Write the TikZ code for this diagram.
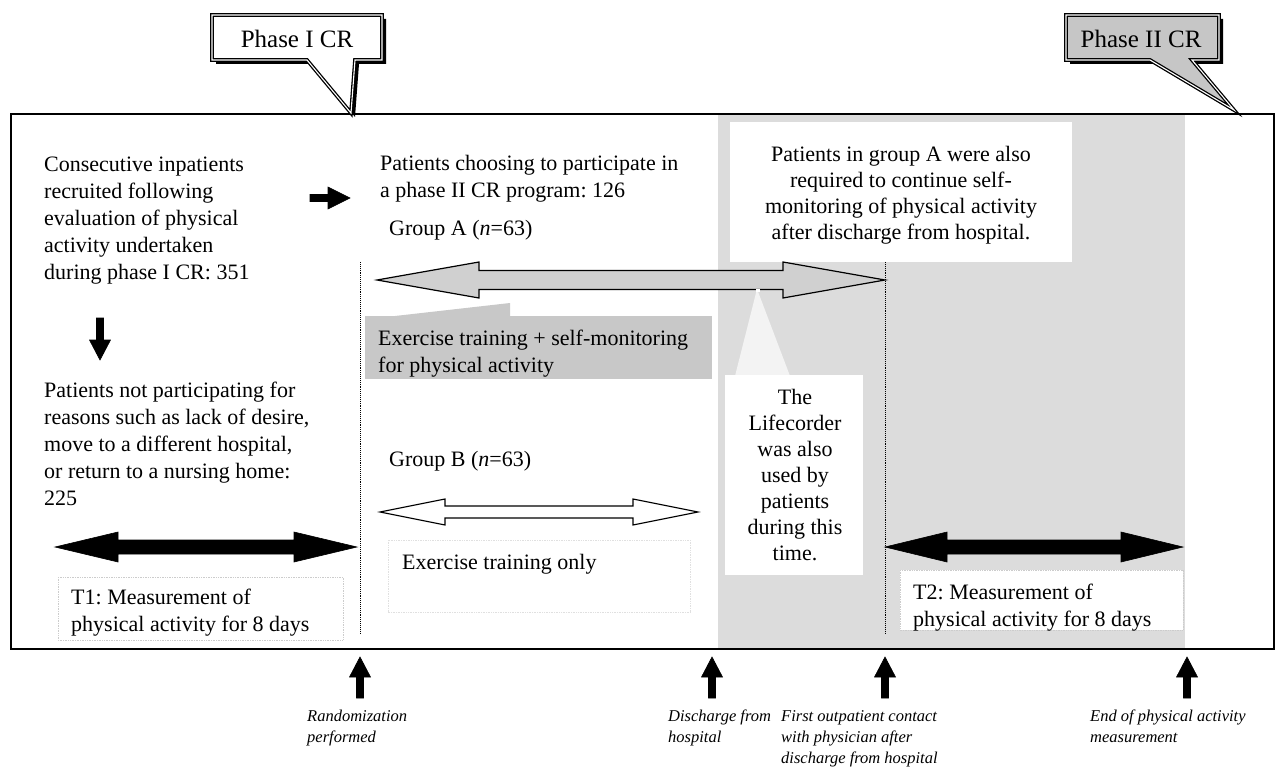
\documentclass[tikz,border=0pt]{standalone}
\usepackage{fontspec}
\setmainfont{Liberation Serif}
\definecolor{greyarea}{HTML}{DCDCDC}
\definecolor{arrowgrey}{HTML}{D0D0D0}
\definecolor{exbox}{HTML}{C8C8C8}
\definecolor{phgrey}{HTML}{C6C6C6}
\newcommand{\myDArrow}[7]{%
 \filldraw[#7] (#1,#3) -- ({#1+#4},{#3-#5}) -- ({#1+#4},{#3-#6}) -- ({#2-#4},{#3-#6}) -- ({#2-#4},{#3-#5}) -- (#2,#3) -- ({#2-#4},{#3+#5}) -- ({#2-#4},{#3+#6}) -- ({#1+#4},{#3+#6}) -- ({#1+#4},{#3+#5}) -- cycle;}
\newcommand{\myUArrow}[1]{%
 \filldraw[blk] (#1,657) -- ({#1+10.5},677) -- ({#1+3.5},677) -- ({#1+3.5},698) -- ({#1-3.5},698) -- ({#1-3.5},677) -- ({#1-10.5},677) -- cycle;}
\begin{document}
\frenchspacing
\begin{tikzpicture}[x=1pt,y=-1pt,
  txt/.style={inner sep=0pt, font=\fontsize{22}{27}\selectfont, align=left, anchor=north west},
  ctxt/.style={inner sep=0pt, font=\fontsize{22}{26}\selectfont, align=center, anchor=north},
  lbl/.style={inner sep=0pt, font=\fontsize{16.5}{21}\selectfont\itshape, align=left, anchor=north west},
  phase/.style={inner sep=0pt, font=\fontsize{25}{30}\selectfont},
  blk/.style={fill=black, draw=black, line width=0.6pt},
  gblk/.style={fill=arrowgrey, draw=black, line width=1.2pt},
  wblk/.style={fill=white, draw=black, line width=1.1pt},
  dotl/.style={black, line width=0.9pt, densely dotted},
  faint/.style={draw=black!20, densely dotted, line width=0.7pt},
  callout/.style={draw=black, line width=1.3pt, double=white, double distance=1.1pt, line join=miter},
]
\useasboundingbox (0,0) rectangle (1281,770);
\fill[white] (0,0) rectangle (1281,770);

% shaded post-discharge period
\fill[greyarea] (718,114) rectangle (1185,649);
\fill[white] (730,122) rectangle (1072,262);

% faint text boxes
\draw[faint, fill=white] (58,577) rectangle (343,640);
\draw[faint, fill=white] (900,570) rectangle (1183,630);
\draw[faint, draw=black!12] (388,540) rectangle (690,612);

% grey label box with pointer
\fill[exbox] (365,316) rectangle (712,379);
\fill[exbox] (395,316) -- (510,303) -- (510,316) -- cycle;

% dotted time lines
\coordinate (rtop) at (360,262);
\coordinate (rbot) at (360,633);
\coordinate (ftop) at (885,262);
\coordinate (fbot) at (885,633);
\draw[dotl] (rtop) -- (rbot);
\draw[dotl] (ftop) -- (fbot);

% frame
\draw[line width=1.5pt] (11,114) rectangle (1274,649);

% block arrows
\myDArrow{377}{885}{280}{102}{18}{9.5}{gblk}
\myDArrow{380}{698}{512}{65}{13}{6}{wblk}
\myDArrow{55}{357}{547}{63}{15}{7}{blk}
\myDArrow{885}{1183}{547}{62}{15}{7}{blk}

% Lifecorder box with pointer
\fill[greyarea!35!white] (735,376) -- (757,289) -- (790,376) -- cycle;
\fill[white] (756,289) rectangle (760,292);
\fill[white] (725,375) rectangle (863,575);

% small arrows
\filldraw[blk] (310,194.5) -- (328,194.5) -- (328,187) -- (350,198) -- (328,209) -- (328,201.5) -- (310,201.5) -- cycle;
\filldraw[blk] (96.5,318) -- (103.5,318) -- (103.5,340) -- (110.5,340) -- (100,360) -- (89.5,340) -- (96.5,340) -- cycle;

% texts
\node[txt] (recruit) at (44,157) {Consecutive inpatients\\recruited following\\evaluation of physical\\activity undertaken\\during phase I CR: 351};
\node[txt] (notpart) at (44,382) {Patients not participating for\\reasons such as lack of desire,\\move to a different hospital,\\or return to a nursing home:\\225};
\node[txt] (choose) at (380,155) {Patients choosing to participate in\\a phase II CR program: 126};
\node[txt] (grpA) at (389,220) {Group A (\textit{n}=63)};
\node[txt] (grpB) at (389,451) {Group B (\textit{n}=63)};
\node[txt] (exA) at (378,330) {Exercise training + self-monitoring\\for physical activity};
\node[txt] (exB) at (402,554) {Exercise training only};
\node[txt] (t1) at (71,589) {T1: Measurement of\\physical activity for 8 days};
\node[txt] (t2) at (913,584) {T2: Measurement of\\physical activity for 8 days};
\node[ctxt] (contA) at (901,146) {Patients in group A were also\\required to continue self-\\monitoring of physical activity\\after discharge from hospital.};
\node[ctxt] (life) at (795,389) {The\\Lifecorder\\was also\\used by\\patients\\during this\\time.};

% callouts
\fill[black, shift={(4,4)}] (212,15) -- (382,15) -- (382,60) -- (355,60) -- (351,113) -- (307,60) -- (212,60) -- cycle;
\filldraw[callout, fill=white] (212,15) -- (382,15) -- (382,60) -- (355,60) -- (351,113) -- (307,60) -- (212,60) -- cycle;
\node[phase] (ph1) at (297,39) {Phase I CR};
\fill[black, shift={(4,4)}] (1066,15) -- (1219,15) -- (1219,60) -- (1192,60) -- (1234,110) -- (1150,60) -- (1066,60) -- cycle;
\filldraw[callout, fill=phgrey] (1066,15) -- (1219,15) -- (1219,60) -- (1192,60) -- (1234,110) -- (1150,60) -- (1066,60) -- cycle;
\node[phase] (ph2) at (1141,39) {Phase II CR};

% event arrows and labels
\myUArrow{360}
\myUArrow{712}
\myUArrow{885}
\myUArrow{1187}
\node[lbl] (ev1) at (307,710) {Randomization\\performed};
\node[lbl] (ev2) at (668,710) {Discharge from\\hospital};
\node[lbl] (ev3) at (781,710) {First outpatient contact\\with physician after\\discharge from hospital};
\node[lbl] (ev4) at (1090,710) {End of physical activity\\measurement};
\end{tikzpicture}
\end{document}
